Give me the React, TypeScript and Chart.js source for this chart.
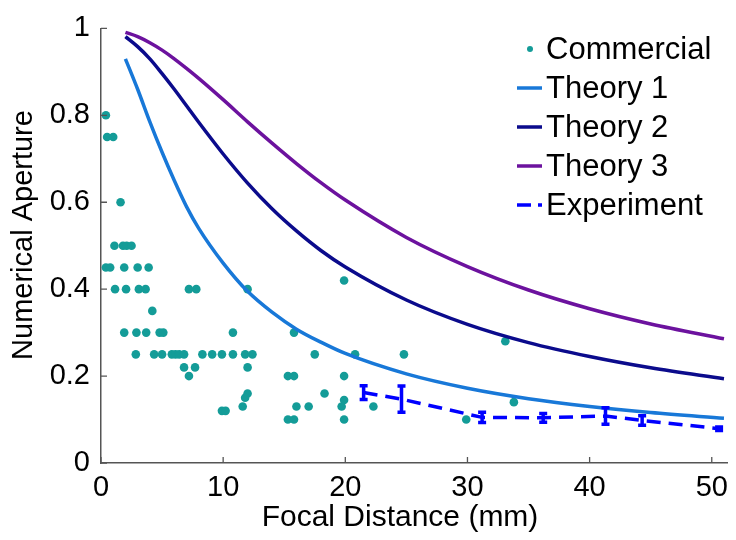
import React, { useEffect, useRef } from "react";
import { Chart, registerables } from "chart.js";

Chart.register(...registerables);

const FONT = '"Liberation Sans", Arial, Helvetica, sans-serif';

// Commercial lenses (focal distance mm, NA)
const commercialX = [
  0.4, 0.5, 1.0, 1.6,
  1.1, 1.8, 2.1, 2.5,
  0.4, 0.75, 1.9, 3.0, 3.9,
  1.15, 2.05, 3.1, 3.65, 7.2, 7.8, 12.0,
  4.2,
  1.9, 2.9, 3.7, 4.8, 5.1, 10.8,
  2.85, 4.35, 5.0, 5.8, 6.1, 6.4, 6.8, 8.3, 9.1, 9.9, 10.8, 11.8, 12.4,
  6.8, 7.7, 12.0,
  7.2,
  12.0, 11.8, 11.6,
  9.9, 10.2,
  19.9, 15.8, 17.5, 20.8, 24.8,
  15.3, 15.8, 19.9,
  18.3, 19.9,
  16.0, 17.0, 19.7, 22.3,
  15.3, 15.8, 19.9,
  33.1, 33.8, 29.9,
];
const commercialY = [
  0.8, 0.75, 0.75, 0.6,
  0.5, 0.5, 0.5, 0.5,
  0.45, 0.45, 0.45, 0.45, 0.45,
  0.4, 0.4, 0.4, 0.4, 0.4, 0.4, 0.4,
  0.35,
  0.3, 0.3, 0.3, 0.3, 0.3, 0.3,
  0.25, 0.25, 0.25, 0.25, 0.25, 0.25, 0.25, 0.25, 0.25, 0.25, 0.25, 0.25, 0.25,
  0.22, 0.22, 0.22,
  0.2,
  0.16, 0.15, 0.13,
  0.12, 0.12,
  0.42, 0.3, 0.25, 0.25, 0.25,
  0.2, 0.2, 0.2,
  0.16, 0.145,
  0.13, 0.13, 0.13, 0.13,
  0.1, 0.1, 0.1,
  0.28, 0.14, 0.1,
];

// Theory curves
const theoryX = [2, 3, 4, 5, 6, 7, 8, 10, 12, 14, 16, 18, 20, 25, 30, 35, 40, 45, 51];
const theory1 = [0.93, 0.86, 0.785, 0.715, 0.65, 0.59, 0.54, 0.46, 0.395, 0.347, 0.308, 0.278, 0.252, 0.205, 0.172, 0.148, 0.13, 0.116, 0.103];
const theory2 = [0.981, 0.958, 0.93, 0.896, 0.86, 0.822, 0.784, 0.711, 0.644, 0.585, 0.534, 0.489, 0.451, 0.375, 0.319, 0.277, 0.245, 0.219, 0.194];
const theory3 = [0.991, 0.981, 0.967, 0.95, 0.93, 0.908, 0.885, 0.836, 0.785, 0.736, 0.689, 0.645, 0.605, 0.519, 0.452, 0.398, 0.355, 0.32, 0.286];

// Experiment with error bars
const experimentX = [21.5, 24.6, 31.2, 36.2, 41.3, 44.3, 50.6];
const experimentY = [0.162, 0.147, 0.105, 0.104, 0.108, 0.098, 0.079];
const experimentErr = [0.016, 0.03, 0.012, 0.01, 0.019, 0.011, 0.004];

const xTicks = [0, 10, 20, 30, 40, 50];
const yTicks = [0, 0.2, 0.4, 0.6, 0.8, 1];
const legendLabels = ["Commercial", "Theory 1", "Theory 2", "Theory 3", "Experiment"];
const xTitle = "Focal Distance (mm)";
const yTitle = "Numerical Aperture";

const C_COMM = "#149c98";
const C_T1 = "#1878d8";
const C_T2 = "#0b0b8c";
const C_T3 = "#6c129e";
const C_EXP = "#0000ff";
const AXIS = "#555555";

const zip = (xs: number[], ys: number[]) => xs.map((x, i) => ({ x, y: ys[i] }));

const decorPlugin = {
  id: "decor",
  afterDatasetsDraw(chart: any) {
    const ctx = chart.ctx;
    const xs = chart.scales.x;
    const ys = chart.scales.y;
    ctx.save();
    ctx.strokeStyle = C_EXP;
    ctx.lineWidth = 3.5;
    ctx.setLineDash([]);
    experimentX.forEach((x, i) => {
      const px = xs.getPixelForValue(x);
      const top = ys.getPixelForValue(experimentY[i] + experimentErr[i]);
      const bot = ys.getPixelForValue(experimentY[i] - experimentErr[i]);
      ctx.beginPath();
      ctx.moveTo(px, top);
      ctx.lineTo(px, bot);
      ctx.moveTo(px - 4, top);
      ctx.lineTo(px + 4, top);
      ctx.moveTo(px - 4, bot);
      ctx.lineTo(px + 4, bot);
      ctx.stroke();
    });
    ctx.restore();
  },
  afterDraw(chart: any) {
    const ctx = chart.ctx;
    const xs = chart.scales.x;
    const ys = chart.scales.y;
    const { left, bottom } = chart.chartArea;
    ctx.save();
    // inward ticks
    ctx.strokeStyle = AXIS;
    ctx.lineWidth = 1.3;
    ctx.beginPath();
    xTicks.forEach((v) => {
      const px = xs.getPixelForValue(v);
      ctx.moveTo(px, bottom);
      ctx.lineTo(px, bottom - 6);
    });
    yTicks.forEach((v) => {
      const py = ys.getPixelForValue(v);
      ctx.moveTo(left, py);
      ctx.lineTo(left + 6, py);
    });
    ctx.stroke();

    // axis titles
    ctx.fillStyle = "#000";
    ctx.textAlign = "center";
    ctx.textBaseline = "middle";
    ctx.font = `30px ${FONT}`;
    ctx.fillText(xTitle, 400, 518);
    ctx.save();
    ctx.font = `29px ${FONT}`;
    ctx.translate(24, 235);
    ctx.rotate(-Math.PI / 2);
    ctx.fillText(yTitle, 0, 0);
    ctx.restore();

    // legend
    const colors = [C_COMM, C_T1, C_T2, C_T3, C_EXP];
    const lx0 = 517;
    const lx1 = 542;
    const tx = 546;
    ctx.textAlign = "left";
    ctx.font = `31px ${FONT}`;
    legendLabels.forEach((label, i) => {
      const y = 49 + i * 39;
      ctx.setLineDash([]);
      if (i === 0) {
        ctx.fillStyle = colors[i];
        ctx.beginPath();
        ctx.arc(530, y, 3, 0, Math.PI * 2);
        ctx.fill();
      } else if (i === 4) {
        ctx.strokeStyle = colors[i];
        ctx.lineWidth = 3.5;
        ctx.beginPath();
        ctx.moveTo(lx0, y);
        ctx.lineTo(lx0 + 14, y);
        ctx.moveTo(lx1 - 4, y);
        ctx.lineTo(lx1, y);
        ctx.stroke();
      } else {
        ctx.strokeStyle = colors[i];
        ctx.lineWidth = 3.5;
        ctx.beginPath();
        ctx.moveTo(lx0, y);
        ctx.lineTo(lx1, y);
        ctx.stroke();
      }
      ctx.fillStyle = "#000";
      ctx.fillText(label, tx, y + 1);
    });
    ctx.restore();
  },
};

export default function App() {
  const ref = useRef<HTMLCanvasElement | null>(null);

  useEffect(() => {
    if (!ref.current) return;
    const lineDs = (label: string, ys: number[], color: string, order: number) => ({
      label,
      data: zip(theoryX, ys),
      showLine: true,
      borderColor: color,
      backgroundColor: color,
      borderWidth: 3.5,
      pointRadius: 0,
      cubicInterpolationMode: "monotone" as const,
      order,
    });
    const chart = new Chart(ref.current, {
      type: "scatter",
      data: {
        datasets: [
          {
            label: legendLabels[0],
            data: zip(commercialX, commercialY),
            showLine: false,
            pointRadius: 4.3,
            pointBackgroundColor: C_COMM,
            pointBorderWidth: 0,
            backgroundColor: C_COMM,
            borderColor: C_COMM,
            order: 5,
          },
          lineDs(legendLabels[1], theory1, C_T1, 4),
          lineDs(legendLabels[2], theory2, C_T2, 3),
          lineDs(legendLabels[3], theory3, C_T3, 2),
          {
            label: legendLabels[4],
            data: zip(experimentX, experimentY),
            showLine: true,
            borderColor: C_EXP,
            backgroundColor: C_EXP,
            borderWidth: 3.5,
            borderDash: [14, 8],
            pointRadius: 0,
            tension: 0,
            order: 1,
          },
        ],
      },
      options: {
        animation: false,
        responsive: false,
        devicePixelRatio: 1,
        layout: { padding: { top: 22, right: 3, left: 0, bottom: 0 } },
        plugins: {
          legend: { display: false },
          tooltip: { enabled: false },
        },
        scales: {
          x: {
            type: "linear",
            min: 0,
            max: 51.25,
            afterFit: (s: any) => {
              s.height = 77;
            },
            grid: { display: false, drawTicks: false },
            border: { display: true, color: AXIS, width: 1.5 },
            ticks: {
              stepSize: 10,
              includeBounds: false,
              autoSkip: false,
              maxRotation: 0,
              padding: 8,
              color: "#000",
              font: { family: FONT, size: 29 },
            },
          },
          y: {
            type: "linear",
            min: 0,
            max: 1,
            afterFit: (s: any) => {
              s.width = 101;
            },
            grid: { display: false, drawTicks: false },
            border: { display: true, color: AXIS, width: 1.5 },
            ticks: {
              stepSize: 0.2,
              autoSkip: false,
              padding: 11,
              color: "#000",
              font: { family: FONT, size: 29 },
              callback: (v: any) => String(+Number(v).toFixed(1)),
            },
          },
        },
      },
      plugins: [decorPlugin],
    });
    return () => chart.destroy();
  }, []);

  return (
    <div style={{ position: "absolute", left: 0, top: 0, width: 736, height: 540, background: "#fff" }}>
      <canvas ref={ref} width={736} height={540} />
    </div>
  );
}
